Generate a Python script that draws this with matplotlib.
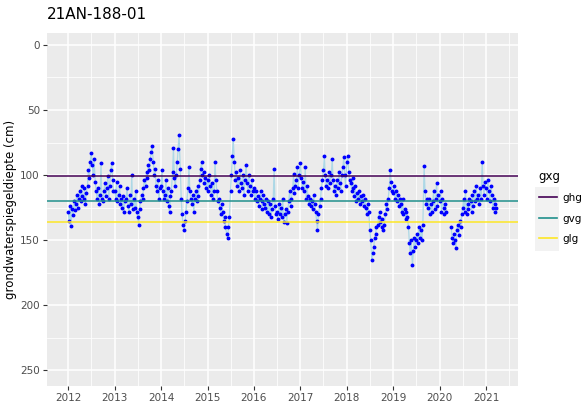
import numpy as np
import pandas as pd
import matplotlib
matplotlib.use('Agg')
import matplotlib.pyplot as plt
import matplotlib.dates as mdates
from matplotlib.lines import Line2D
from matplotlib.patches import Rectangle

# groundwater depth (cm below surface), weekly readings (days 1, 8, 15, 22 of each month)
y2012 = [128, 135, 124, 139, 126, 131, 120, 127, 122, 115, 125, 118,
         112, 120, 108, 116, 118, 110, 122, 114, 108, 96, 102, 90,
         83, 92, 100, 88, 105, 112, 118, 110, 122, 115, 91, 118,
         120, 112, 106, 116, 110, 101, 118, 108, 96, 91, 104, 112]
y2013 = [112, 118, 105, 120, 115, 108, 122, 118, 125, 116, 128, 120,
         118, 110, 124, 128, 115, 122, 100, 126, 118, 125, 112, 128,
         132, 138, 126, 120, 115, 118, 110, 104, 108, 98, 102, 92,
         96, 88, 82, 78, 90, 100, 95, 108, 112, 104, 118, 110]
y2014 = [108, 96, 112, 118, 115, 104, 120, 110, 124, 128, 116, 112,
         98, 79, 102, 108, 100, 90, 80, 69, 95, 118, 130, 138,
         142, 135, 128, 120, 110, 94, 112, 118, 122, 115, 128, 118,
         112, 120, 108, 116, 104, 95, 90, 100, 98, 106, 102, 110]
y2015 = [104, 112, 100, 108, 115, 106, 118, 112, 90, 104, 112, 120,
         118, 125, 130, 122, 128, 135, 132, 140, 145, 148, 140, 132,
         112, 100, 85, 72, 90, 104, 98, 108, 102, 112, 96, 106,
         110, 100, 115, 104, 92, 106, 112, 100, 108, 115, 104, 112]
y2016 = [110, 118, 112, 120, 116, 124, 118, 112, 120, 126, 115, 122,
         125, 118, 128, 120, 130, 122, 132, 126, 118, 95, 124, 130,
         128, 134, 122, 130, 125, 132, 118, 136, 130, 126, 137, 128,
         120, 112, 124, 118, 110, 99, 114, 108, 104, 94, 110, 100]
y2017 = [91, 102, 110, 105, 112, 94, 118, 108, 116, 122, 118, 124,
         120, 126, 115, 122, 128, 135, 142, 130, 124, 118, 110, 104,
         96, 85, 100, 108, 104, 110, 98, 106, 100, 88, 104, 112,
         108, 115, 104, 110, 98, 106, 112, 100, 94, 86, 100, 108]
y2018 = [90, 85, 98, 104, 106, 112, 102, 110, 116, 108, 120, 114,
         118, 112, 122, 116, 120, 115, 124, 118, 125, 130, 122, 128,
         142, 150, 165, 160, 155, 148, 145, 140, 138, 132, 128, 136,
         140, 134, 142, 138, 130, 122, 126, 118, 110, 96, 105, 112]
y2019 = [114, 108, 118, 112, 120, 115, 124, 118, 122, 128, 118, 130,
         126, 134, 128, 132, 140, 152, 160, 150, 169, 158, 148, 155,
         150, 145, 152, 140, 148, 142, 150, 138, 93, 112, 122, 118,
         125, 118, 130, 122, 128, 120, 112, 126, 118, 106, 124, 115]
y2020 = [120, 112, 128, 118, 125, 130, 122, 128, np.nan, np.nan, np.nan, np.nan,
         140, 148, 152, 145, 150, 156, 142, 138, 146, 135, 140, 130,
         125, 118, 128, 112, 130, 122, 126, 118, 120, 128, 115, 124,
         112, 120, 108, 118, 115, 122, 110, 118, 90, 108, 115, 105]
y2021 = [110, 118, 104, 112, 120, 108, 115, 125, 118, 122, 128, 125]

gxg_names = ['ghg', 'gvg', 'glg']
gxg_values = [101, 120, 136]
gxg_colors = ['#440154', '#21908C', '#FDE725']

series = {2012: y2012, 2013: y2013, 2014: y2014, 2015: y2015, 2016: y2016,
          2017: y2017, 2018: y2018, 2019: y2019, 2020: y2020, 2021: y2021}
days = [1, 8, 15, 22]
dates = []
depth = []
for year, vals in series.items():
    for i, v in enumerate(vals):
        month = i // 4 + 1
        dates.append(pd.Timestamp(year, month, days[i % 4]))
        depth.append(v)
df = pd.DataFrame({'date': dates, 'depth': depth})

fig = plt.figure(figsize=(5.85, 4.09), dpi=100)
ax = fig.add_axes([0.080, 0.056, 0.805, 0.863])
ax.set_facecolor('#EBEBEB')
for s in ax.spines.values():
    s.set_visible(False)

# grid
ax.set_axisbelow(True)
ax.grid(which='major', color='white', linewidth=1.1)
ax.grid(which='minor', color='white', linewidth=0.55)

ax.plot(df['date'], df['depth'], color='lightblue', linewidth=0.9, zorder=2)
ax.plot(df['date'], df['depth'], linestyle='none', marker='o', markersize=1.8,
        color='blue', zorder=3)

for name, val, col in zip(gxg_names, gxg_values, gxg_colors):
    ax.axhline(val, color=col, linewidth=1.1, zorder=4)

# axes
d0 = mdates.date2num(df['date'].min())
d1 = mdates.date2num(df['date'].max())
pad = (d1 - d0) * 0.05
ax.set_xlim(d0 - pad, d1 + pad)
ax.set_ylim(262, -9)
ax.set_yticks([0, 50, 100, 150, 200, 250])
ax.set_yticks([25, 75, 125, 175, 225], minor=True)
ax.xaxis.set_major_locator(mdates.YearLocator())
ax.xaxis.set_major_formatter(mdates.DateFormatter('%Y'))
ax.xaxis.set_minor_locator(mdates.MonthLocator(bymonth=7))
ax.tick_params(which='major', length=3, color='#333333', labelcolor='#4D4D4D',
               labelsize=7.5, pad=2)
ax.tick_params(which='minor', length=0)

ax.set_ylabel('grondwaterspiegeldiepte (cm)', fontsize=8.5, labelpad=2)
fig.text(0.080, 0.945, '21AN-188-01', fontsize=11, ha='left', va='bottom')

# legend
fig.patches.append(Rectangle((535 / 585, 1 - 251 / 409), 24 / 585, 64 / 409,
                             transform=fig.transFigure, facecolor='#F2F2F2',
                             edgecolor='none'))
handles = [Line2D([], [], color=c, linewidth=1.2) for c in gxg_colors]
leg = fig.legend(handles, gxg_names, title='gxg', loc='upper left',
                 bbox_to_anchor=(0.905, 0.608), frameon=False, fontsize=7.5,
                 title_fontsize=8.5, handlelength=1.7, handletextpad=0.6,
                 labelspacing=1.0)
leg._legend_box.align = 'left'

fig.savefig('out.png', dpi=100)
